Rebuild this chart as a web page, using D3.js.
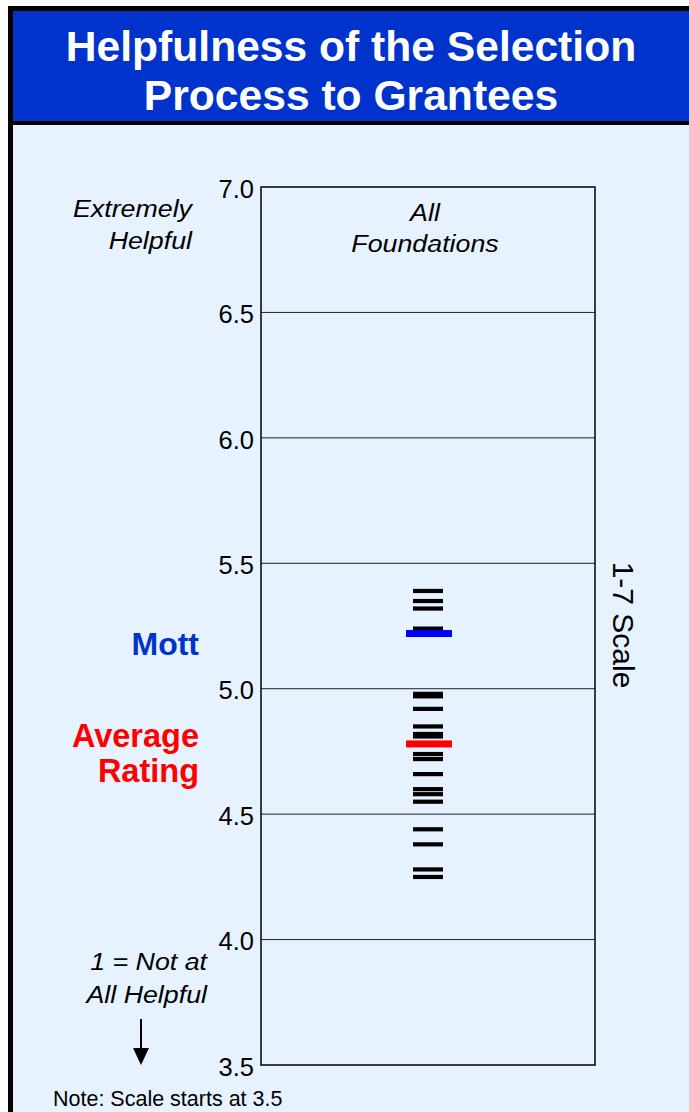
<!DOCTYPE html>
<html><head><meta charset="utf-8">
<script src="https://cdn.jsdelivr.net/npm/d3@7"></script>
<style>html,body{margin:0;padding:0;background:#fff;} svg{display:block;font-family:"Liberation Sans",Arial,sans-serif;}</style>
</head><body>
<script>
const titleLines = ["Helpfulness of the Selection", "Process to Grantees"];
const tickValues = [3.5, 4.0, 4.5, 5.0, 5.5, 6.0, 6.5, 7.0];
const gridValues = [4.0, 4.5, 5.0, 5.5, 6.0, 6.5];
const seriesLabel = ["All", "Foundations"];
const foundationRatings = [5.39, 5.35, 5.32, 5.24, 4.98, 4.97, 4.92, 4.85, 4.82, 4.81, 4.74, 4.72, 4.66, 4.60, 4.58, 4.55, 4.44, 4.38, 4.28, 4.25];
const mottRating = [5.22];
const averageRating = [4.78];
const topLabel = ["Extremely", "Helpful"];
const bottomLabel = ["1 = Not at", "All Helpful"];
const mottLabel = ["Mott"];
const averageLabel = ["Average", "Rating"];
const scaleLabel = "1-7 Scale";
const noteText = "Note: Scale starts at 3.5";

const W = 689, H = 1112;
const SX = 1.14; // horizontal stretch of the italic labels in the original
const svg = d3.select("body").append("svg").attr("width", W).attr("height", H);

// frame & background
svg.append("rect").attr("x", 0).attr("y", 0).attr("width", W).attr("height", H).attr("fill", "#fff");
svg.append("rect").attr("x", 8).attr("y", 6).attr("width", W).attr("height", H).attr("fill", "#000");
svg.append("rect").attr("x", 13).attr("y", 11).attr("width", W).attr("height", 110).attr("fill", "#0033CC");
svg.append("rect").attr("x", 13).attr("y", 125).attr("width", W).attr("height", H).attr("fill", "#E6F2FF");

// title
svg.append("g").selectAll("text").data(titleLines).join("text")
  .attr("x", 351).attr("y", (d, i) => 61 + i * 49)
  .attr("text-anchor", "middle").attr("fill", "#fff")
  .attr("font-weight", "bold").attr("font-size", 42.6).text(d => d);

// scales
const plot = {x0: 261, x1: 595};
const y = d3.scaleLinear().domain([3.5, 7.0]).range([1065, 187]);
const xc = (plot.x0 + plot.x1) / 2;

// gridlines
svg.append("g").selectAll("line").data(gridValues).join("line")
  .attr("x1", plot.x0).attr("x2", plot.x1)
  .attr("y1", d => y(d)).attr("y2", d => y(d))
  .attr("stroke", "#222").attr("stroke-width", 1);

// frame rect
svg.append("rect").attr("x", plot.x0).attr("y", y(7)).attr("width", plot.x1 - plot.x0).attr("height", y(3.5) - y(7))
  .attr("fill", "none").attr("stroke", "#000").attr("stroke-width", 1.5);

// axis labels
const axis = d3.axisLeft(y).tickValues(tickValues).tickFormat(d3.format(".1f")).tickSize(0).tickPadding(7);
const ag = svg.append("g").attr("transform", `translate(${plot.x0},0)`).call(axis);
ag.select(".domain").remove();
ag.selectAll("text").attr("font-size", 25.5).attr("fill", "#000").attr("font-family", '"Liberation Sans",Arial,sans-serif').attr("dy", "0.4em");

// series label
svg.append("g").selectAll("text").data(seriesLabel).join("text")
  .attr("transform", (d, i) => `translate(${xc - 3},${221 + i * 31}) scale(${SX},1)`)
  .attr("text-anchor", "middle").attr("font-style", "italic").attr("font-size", 23.5).text(d => d);

// dashes
svg.append("g").selectAll("rect").data(foundationRatings).join("rect")
  .attr("x", xc - 15).attr("width", 30).attr("y", d => y(d) - 2).attr("height", 4.2).attr("fill", "#000");
svg.append("g").selectAll("rect").data(mottRating).join("rect")
  .attr("x", xc - 22).attr("width", 46).attr("y", d => y(d) - 3.5).attr("height", 7).attr("fill", "#0000FF");
svg.append("g").selectAll("rect").data(averageRating).join("rect")
  .attr("x", xc - 22).attr("width", 46).attr("y", d => y(d) - 3.5).attr("height", 7).attr("fill", "#FF0000");

// left labels
svg.append("g").selectAll("text").data(topLabel).join("text")
  .attr("transform", (d, i) => `translate(192,${217 + i * 31.5}) scale(${SX},1)`)
  .attr("text-anchor", "end").attr("font-style", "italic").attr("font-size", 23.5).text(d => d);
svg.append("g").selectAll("text").data(bottomLabel).join("text")
  .attr("transform", (d, i) => `translate(207,${970 + i * 32.5}) scale(${SX},1)`)
  .attr("text-anchor", "end").attr("font-style", "italic").attr("font-size", 23.5).text(d => d);
svg.append("g").selectAll("text").data(mottLabel).join("text")
  .attr("x", 199).attr("y", 655)
  .attr("text-anchor", "end").attr("font-weight", "bold").attr("font-size", 32).attr("fill", "#0033CC").text(d => d);
svg.append("g").selectAll("text").data(averageLabel).join("text")
  .attr("x", 199).attr("y", (d, i) => 747 + i * 35)
  .attr("text-anchor", "end").attr("font-weight", "bold").attr("font-size", 32.5).attr("fill", "#FF0000").text(d => d);

// arrow
svg.append("line").attr("x1", 141).attr("x2", 141).attr("y1", 1019).attr("y2", 1050).attr("stroke", "#000").attr("stroke-width", 2);
svg.append("path").attr("d", "M133,1048 L149,1048 L141,1065 Z").attr("fill", "#000");

// right label
svg.append("text").attr("transform", "translate(613,625) rotate(90)")
  .attr("text-anchor", "middle").attr("font-size", 30).text(scaleLabel);

// note
svg.append("text").attr("x", 53).attr("y", 1106).attr("font-size", 21.5).text(noteText);
</script>
</body></html>
